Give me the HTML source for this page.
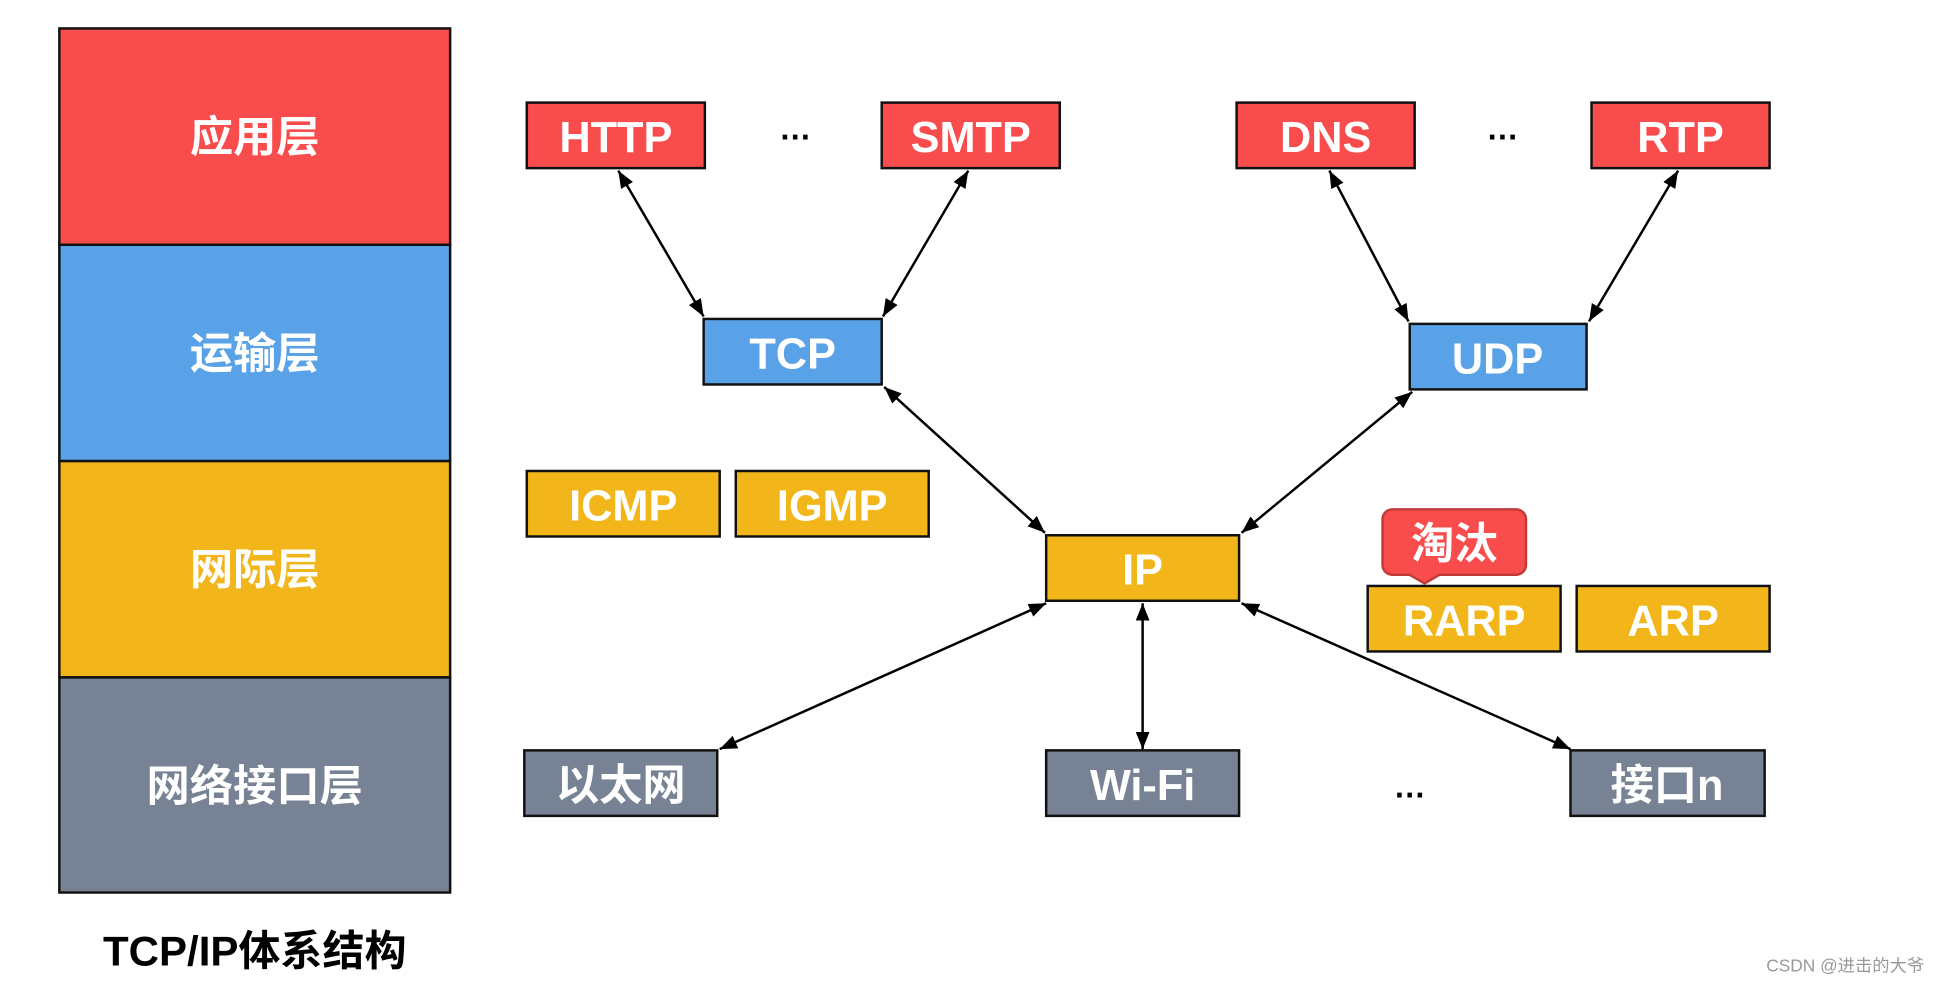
<!DOCTYPE html>
<html><head><meta charset="utf-8"><style>html,body{margin:0;padding:0;background:#fff;overflow:hidden}svg{display:block}</style></head><body>
<svg width="1939" height="984" viewBox="0 0 1568 796" preserveAspectRatio="none" xmlns="http://www.w3.org/2000/svg" font-family="'Liberation Sans','Noto Sans CJK SC',sans-serif" font-weight="bold">
<defs><marker id="a" viewBox="0 0 10 10" refX="10" refY="5" markerWidth="7" markerHeight="7" orient="auto-start-reverse"><path d="M0,1L10,5L0,9z" fill="#000"/></marker></defs>
<g stroke="#111" stroke-width="2">
<rect x="48" y="23" width="316" height="175" fill="#f94c4c"/>
<rect x="48" y="198" width="316" height="175" fill="#5aa2e8"/>
<rect x="48" y="373" width="316" height="175" fill="#f2b51a"/>
<rect x="48" y="548" width="316" height="174" fill="#778394"/>
<rect x="426" y="83" width="144" height="53" fill="#f94c4c"/>
<rect x="713" y="83" width="144" height="53" fill="#f94c4c"/>
<rect x="1000" y="83" width="144" height="53" fill="#f94c4c"/>
<rect x="1287" y="83" width="144" height="53" fill="#f94c4c"/>
<rect x="569" y="258" width="144" height="53" fill="#5aa2e8"/>
<rect x="1140" y="262" width="143" height="53" fill="#5aa2e8"/>
<rect x="426" y="381" width="156" height="53" fill="#f2b51a"/>
<rect x="595" y="381" width="156" height="53" fill="#f2b51a"/>
<rect x="846" y="433" width="156" height="53" fill="#f2b51a"/>
<rect x="1106" y="474" width="156" height="53" fill="#f2b51a"/>
<rect x="1275" y="474" width="156" height="53" fill="#f2b51a"/>
<rect x="424" y="607" width="156" height="53" fill="#778394"/>
<rect x="846" y="607" width="156" height="53" fill="#778394"/>
<rect x="1270" y="607" width="157" height="53" fill="#778394"/>
</g>
<path d="M1126,412h100a8,8 0 0 1 8,8v37a8,8 0 0 1-8,8h-62l-12,7l-12,-7h-14a8,8 0 0 1-8,-8v-37a8,8 0 0 1 8,-8z" fill="#f94c4c" stroke="#c23a3a" stroke-width="2"/>
<g stroke="#000" stroke-width="2" marker-start="url(#a)" marker-end="url(#a)">
<line x1="500" y1="138" x2="569" y2="256"/>
<line x1="783" y1="138" x2="714" y2="256"/>
<line x1="1075" y1="138" x2="1139" y2="260"/>
<line x1="1357" y1="138" x2="1285" y2="260"/>
<line x1="715" y1="313" x2="845" y2="431"/>
<line x1="1142" y1="317" x2="1004" y2="431"/>
<line x1="846" y1="488" x2="582" y2="606"/>
<line x1="924" y1="488" x2="924" y2="606"/>
<line x1="1004" y1="488" x2="1270" y2="606"/>
</g>
<g fill="#fff" font-size="35" text-anchor="middle">
<text x="206" y="123">应用层</text>
<text x="206" y="298">运输层</text>
<text x="206" y="473">网际层</text>
<text x="206" y="648">网络接口层</text>
<text x="498" y="123">HTTP</text>
<text x="785" y="123">SMTP</text>
<text x="1072" y="123">DNS</text>
<text x="1359" y="123">RTP</text>
<text x="641" y="298">TCP</text>
<text x="1211" y="302">UDP</text>
<text x="504" y="421">ICMP</text>
<text x="673" y="421">IGMP</text>
<text x="924" y="473">IP</text>
<text x="1184" y="514">RARP</text>
<text x="1353" y="514">ARP</text>
<text x="502" y="647">以太网</text>
<text x="924" y="647">Wi-Fi</text>
<text x="1348" y="647">接口n</text>
<text x="1176" y="452">淘汰</text>
</g>
<g fill="#000" text-anchor="middle">
<text x="643" y="113" font-size="26">…</text>
<text x="1215" y="113" font-size="26">…</text>
<text x="1140" y="645" font-size="26">…</text>
<text x="206" y="781" font-size="34">TCP/IP体系结构</text>
</g>
<text x="1556" y="786" text-anchor="end" font-size="14" font-weight="normal" fill="#999">CSDN @进击的大爷</text>
</svg>
</body></html>
